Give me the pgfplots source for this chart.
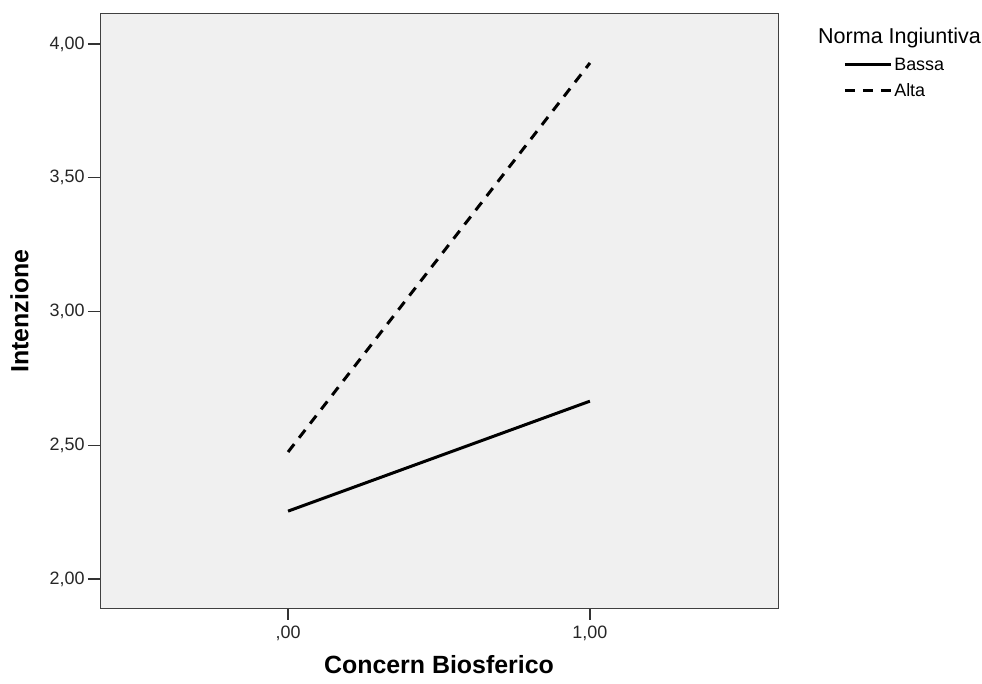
\documentclass[border=0pt]{standalone}
\usepackage{pgfplots}
\pgfplotsset{compat=1.18}
\usepackage{fontspec}
\setmainfont{Liberation Sans}
\definecolor{bg}{HTML}{F0F0F0}
\begin{document}
\begin{tikzpicture}[x=1bp,y=1bp]
\useasboundingbox (-100,-76) rectangle (882,608);
\begin{axis}[
  at={(0,0)}, anchor=south west,
  scale only axis, width=678bp, height=594bp,
  xmin=-0.623, xmax=1.623, ymin=1.892, ymax=4.112,
  axis background/.style={fill=bg},
  axis line style={black!75, line width=1pt},
  xtick={0,1}, xticklabels={{,00},{1,00}},
  ytick={2,2.5,3,3.5,4}, yticklabels={{2,00},{2,50},{3,00},{3,50},{4,00}},
  tick align=outside, tick pos=left,
  major tick length=12bp,
  tick style={black!80, line width=1.3pt},
  ticklabel style={font=\fontsize{18}{21}\selectfont, text=black!85},
  xticklabel style={yshift=-2bp},
  yticklabel style={xshift=0bp},
  xlabel={\textbf{Concern Biosferico}},
  ylabel={\textbf{Intenzione}},
  label style={font=\fontsize{25}{30}\selectfont},
  xlabel style={yshift=-8bp},
  ylabel style={yshift=14bp},
  legend style={at={(axis description cs:1.096,0.930)}, anchor=north west,
    draw=none, fill=none, font=\fontsize{18}{21}\selectfont,
    row sep=8bp, inner sep=0pt},
  legend cell align=left,
  legend image code/.code={\draw[#1] (0bp,0bp) -- (46bp,0bp);},
  clip=false,
]
\addplot[black, line width=3bp] coordinates {(0,2.254) (1,2.665)};
\addlegendentry{Bassa}
\addplot[black, line width=3bp, dash pattern=on 10bp off 8bp] coordinates {(0,2.475) (1,3.929)};
\addlegendentry{Alta}
\end{axis}
\node[anchor=west, font=\fontsize{21.6}{26}\selectfont, inner sep=0pt] at (718,570) {Norma Ingiuntiva};
\end{tikzpicture}
\end{document}
